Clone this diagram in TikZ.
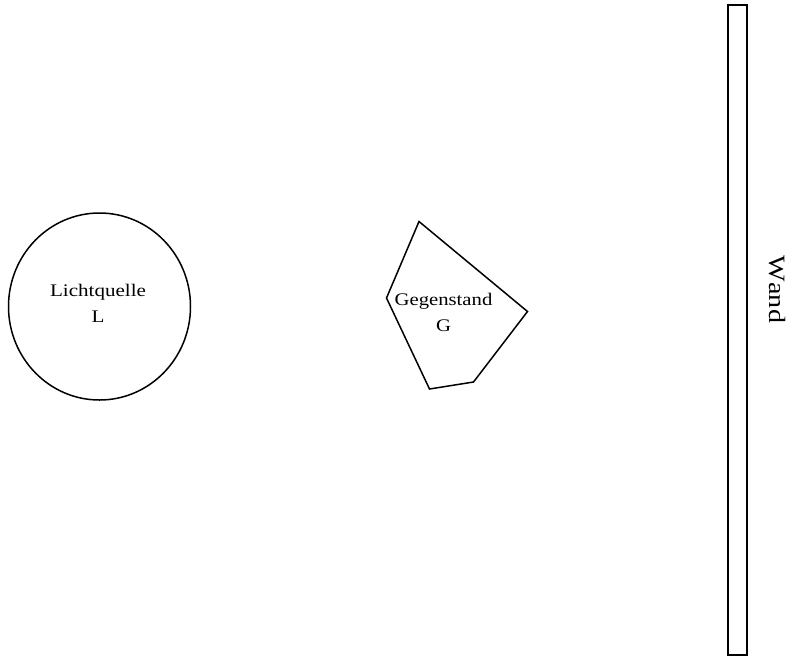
\documentclass[tikz,border=0pt]{standalone}
\usepackage{fontspec}
\usepackage{graphicx}
\usetikzlibrary{shapes.geometric}
\setmainfont{Liberation Serif}
\newfontfamily\wandfont[Kerning=Off]{Liberation Serif}
\begin{document}
\begin{tikzpicture}[x=1pt,y=-1pt,
  outl/.style={draw=black,line width=1.5pt},
  lbl/.style={align=center,font=\fontsize{17.7}{26}\selectfont,inner sep=0pt}]
\useasboundingbox (0,0) rectangle (792,657);
% light source
\node[outl,ellipse,minimum width=182pt,minimum height=187pt,inner sep=0pt] (L) at (99.5,306.5) {};
\node[lbl] (Llbl) at (98,303) {\scalebox{1.19}[1]{Lichtquelle}\\\scalebox{1.19}[1]{L}};
% object
\coordinate (g1) at (419,221.5);
\coordinate (g2) at (527.5,311.5);
\coordinate (g3) at (473.5,382);
\coordinate (g4) at (429.5,389);
\coordinate (g5) at (386.5,298);
\draw[outl,line join=miter] (g1) -- (g2) -- (g3) -- (g4) -- (g5) -- cycle;
\node[lbl] (Glbl) at (443.5,312.3) {\scalebox{1.17}[1]{Gegenstand}\\\scalebox{1.17}[1]{G}};
% wall
\node[outl,rectangle,minimum width=19pt,minimum height=650pt,inner sep=0pt] (W) at (737.5,330) {};
\node[rotate=-90,font=\wandfont\fontsize{23.4}{25}\selectfont,inner sep=0pt] (Wlbl) at (777,289.5) {\scalebox{1.2}[1]{Wand}};
\end{tikzpicture}
\end{document}
